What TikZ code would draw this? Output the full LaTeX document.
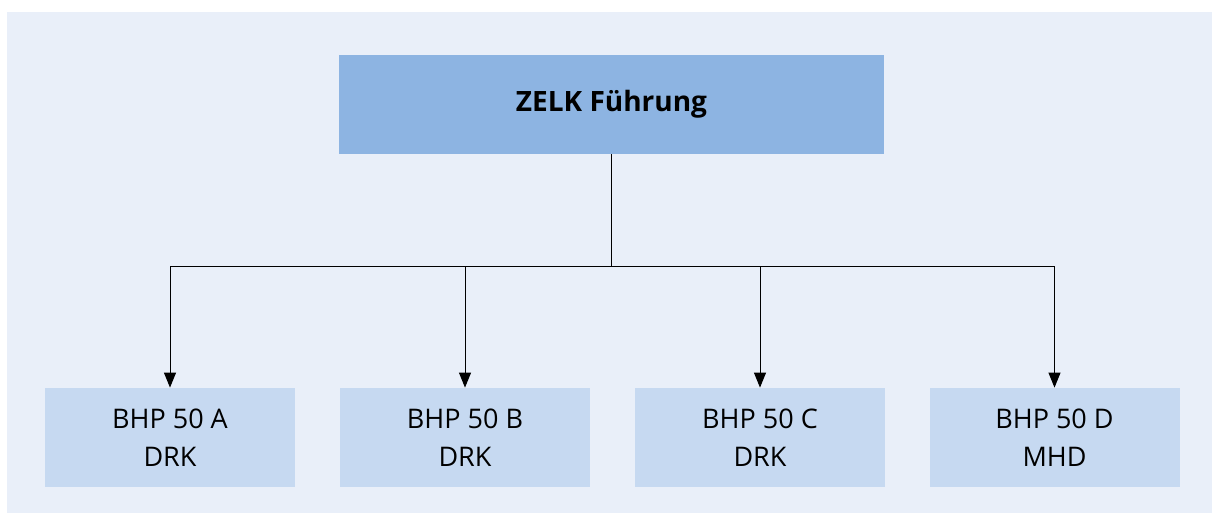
\documentclass[tikz,border=0pt]{standalone}
\usepackage{fontspec}
\setmainfont{Open Sans}
\usepackage{xcolor}
\usetikzlibrary{arrows.meta, positioning}

\definecolor{bgblue}{RGB}{233,239,249}
\definecolor{headblue}{RGB}{141,180,226}
\definecolor{unitblue}{RGB}{198,217,241}

\begin{document}
\begin{tikzpicture}[
    x=0.5pt, y=-0.5pt,
    head/.style={rectangle, fill=headblue, minimum width=272.5pt, minimum height=49.5pt, font=\fontsize{14}{19}\selectfont\bfseries},
    unit/.style={rectangle, fill=unitblue, minimum width=125pt, minimum height=49.5pt, align=center, font=\fontsize{13.5}{19}\selectfont},
    arrow/.style={-{Triangle[length=7.5pt,width=6pt]}, line width=0.5pt}
]
\useasboundingbox (0,0) rectangle (1212,513);
\fill[bgblue] (7,12) rectangle (1212,513);

\node[head] (zelk) at (611.5,104.5) {ZELK Führung};
\node[unit] (bhpa) at (170,437.5) {BHP 50 A\\DRK};
\node[unit] (bhpb) at (465,437.5) {BHP 50 B\\DRK};
\node[unit] (bhpc) at (760,437.5) {BHP 50 C\\DRK};
\node[unit] (bhpd) at (1054.5,437.5) {BHP 50 D\\MHD};

\coordinate (split) at (611.5,267);
\draw[line width=0.5pt] (zelk.south) -- (split);
\draw[arrow] (split) -| (bhpa.north);
\draw[arrow] (split) -| (bhpb.north);
\draw[arrow] (split) -| (bhpc.north);
\draw[arrow] (split) -| (bhpd.north);
\end{tikzpicture}
\end{document}
